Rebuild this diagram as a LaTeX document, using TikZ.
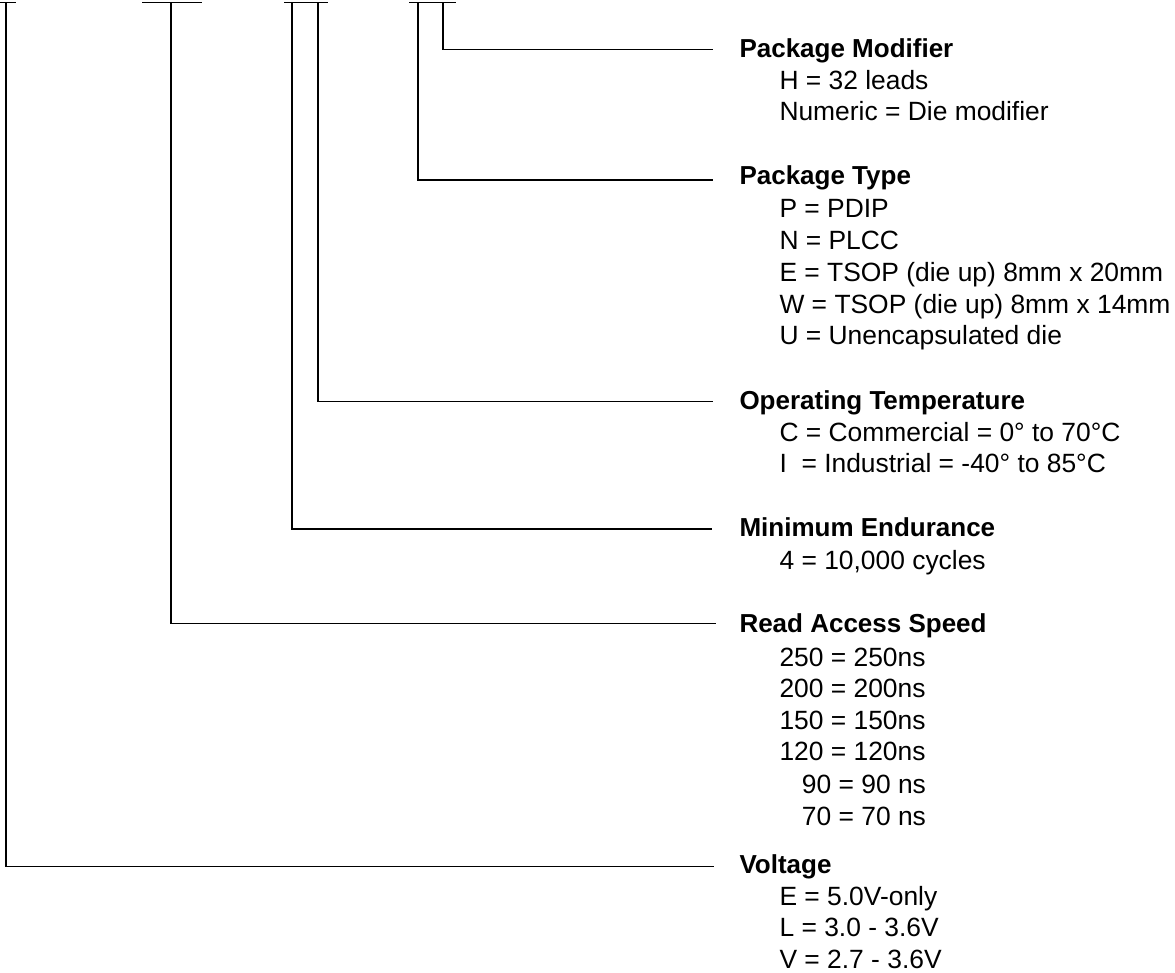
\documentclass[tikz,border=0pt]{standalone}
\usepackage{fontspec}
\setmainfont{Liberation Sans}
\begin{document}
\begin{tikzpicture}[x=1pt,y=-1pt,
  lead/.style={draw=black, line width=1.3pt},
  bar/.style={draw=black, line width=1.3pt},
  title/.style={anchor=base west, inner sep=0pt, font=\fontsize{26}{31}\selectfont\bfseries},
  item/.style={anchor=base west, inner sep=0pt, font=\fontsize{26.4}{31}\selectfont}]
\useasboundingbox (0,0) rectangle (1175,973);

% top bars
\coordinate (b1l) at (0,2.5);   \coordinate (b1r) at (16,2.5);
\coordinate (b2l) at (142,2.5); \coordinate (b2r) at (202,2.5);
\coordinate (b3l) at (284,2.5); \coordinate (b3r) at (328,2.5);
\coordinate (b4l) at (409,2.5); \coordinate (b4r) at (456,2.5);
\draw[bar] (b1l) -- (b1r);
\draw[bar] (b2l) -- (b2r);
\draw[bar] (b3l) -- (b3r);
\draw[bar] (b4l) -- (b4r);

% drop points
\coordinate (vV)  at (6,2.5);
\coordinate (vR)  at (171,2.5);
\coordinate (vM)  at (292,2.5);
\coordinate (vO)  at (318,2.5);
\coordinate (vT)  at (418,2.5);
\coordinate (vP)  at (443,2.5);

% lead ends
\coordinate (eP) at (713,49.3);
\coordinate (eT) at (713,180);
\coordinate (eO) at (713,401.7);
\coordinate (eM) at (712,529);
\coordinate (eR) at (716,623.3);
\coordinate (eV) at (714,866.7);

\draw[lead] (vP) |- (eP);
\draw[lead] (vT) |- (eT);
\draw[lead] (vO) |- (eO);
\draw[lead] (vM) |- (eM);
\draw[lead] (vR) |- (eR);
\draw[lead] (vV) |- (eV);

% Package Modifier
\node[title] (tP) at (739.3,57.3) {Package Modifier};
\node[item] (p1) at (779.3,89.3) {H = 32 leads};
\node[item] (p2) at (779.3,120.7) {Numeric = Die modifier};

% Package Type
\node[title] (tT) at (739.3,185) {Package Type};
\node[item] (t1) at (779.3,217.3) {P = PDIP};
\node[item] (t2) at (779.3,249.3) {N = PLCC};
\node[item] (t3) at (779.3,281.7) {E = TSOP (die up) 8mm x 20mm};
\node[item] (t4) at (779.3,313.3) {W = TSOP (die up) 8mm x 14mm};
\node[item] (t5) at (779.3,345) {U = Unencapsulated die};

% Operating Temperature
\node[title] (tO) at (739.3,409) {Operating Temperature};
\node[item] (o1) at (779.3,441) {C = Commercial = 0° to 70°C};
\node[item] (o2) at (779.3,472.7) {I\ \ = Industrial = -40° to 85°C};

% Minimum Endurance
\node[title] (tM) at (739.3,536.7) {Minimum Endurance};
\node[item] (m1) at (779.3,569) {4 = 10,000 cycles};

% Read Access Speed
\node[title] (tR) at (739.3,632.7) {Read Access Speed};
\node[item] (r1) at (779.3,666) {250 = 250ns};
\node[item] (r2) at (779.3,697.3) {200 = 200ns};
\node[item] (r3) at (779.3,729) {150 = 150ns};
\node[item] (r4) at (779.3,760.7) {120 = 120ns};
\node[item] (r5) at (801.7,793.3) {90 = 90 ns};
\node[item] (r6) at (801.7,825) {70 = 70 ns};

% Voltage
\node[title] (tV) at (739.3,873.3) {Voltage};
\node[item] (u1) at (779.3,905) {E = 5.0V-only};
\node[item] (u2) at (779.3,936.7) {L = 3.0 - 3.6V};
\node[item] (u3) at (779.3,968.4) {V = 2.7 - 3.6V};
\end{tikzpicture}
\end{document}
